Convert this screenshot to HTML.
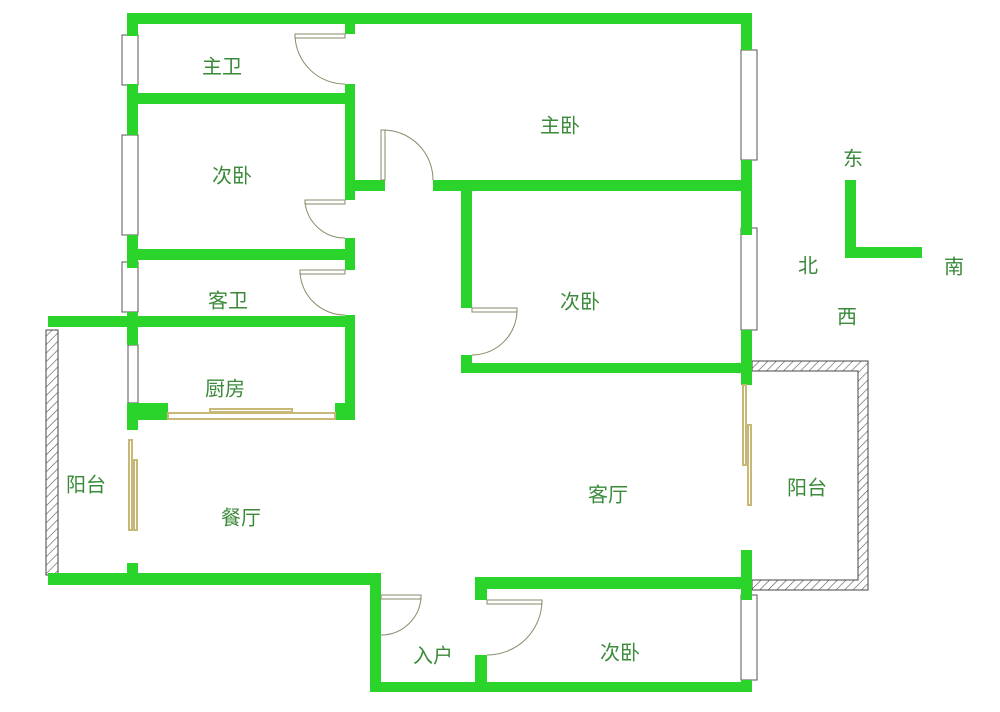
<!DOCTYPE html>
<html><head><meta charset="utf-8"><style>
html,body{margin:0;padding:0;background:#fff}
svg{display:block}
text{font-family:"Liberation Sans","Noto Sans CJK SC",sans-serif;font-size:20px;fill:#3a8a3a;text-anchor:middle;dominant-baseline:middle}
</style></head><body>
<svg width="1000" height="712" viewBox="0 0 1000 712" xmlns="http://www.w3.org/2000/svg">
<defs>
<pattern id="h" width="6" height="6" patternUnits="userSpaceOnUse" patternTransform="rotate(45)">
<rect width="6" height="6" fill="#fff"/><line x1="0" y1="0" x2="0" y2="6" stroke="#555" stroke-width="1.2"/></pattern>
</defs>
<!-- balconies hatched -->
<path d="M752 361 H868 V590 H752 V580 H858 V371 H752 Z" fill="url(#h)" stroke="#444" stroke-width="1"/>
<rect x="46" y="330" width="12" height="245" fill="url(#h)" stroke="#444" stroke-width="1"/>
<!-- windows -->
<g fill="#fff" stroke="#555" stroke-width="1">
<rect x="122" y="35" width="16" height="50"/><rect x="122" y="135" width="16" height="100"/>
<rect x="122" y="262" width="16" height="50"/><rect x="128" y="345" width="10" height="58"/>
<rect x="741" y="50" width="16" height="110"/><rect x="741" y="228" width="16" height="102"/>
<rect x="741" y="595" width="16" height="85"/>
</g>
<g fill="#2bd42b">
<rect x="127" y="13" width="625" height="11"/>
<rect x="127" y="13" width="11" height="23"/><rect x="127" y="84" width="11" height="51"/>
<rect x="127" y="235" width="11" height="33"/><rect x="127" y="312" width="11" height="33"/>
<rect x="127" y="403" width="11" height="27"/>
<rect x="127" y="93" width="228" height="11"/>
<rect x="345" y="24" width="10" height="10"/><rect x="345" y="84" width="10" height="116"/>
<rect x="355" y="180" width="30" height="11"/>
<rect x="127" y="249" width="228" height="11"/><rect x="345" y="238" width="10" height="32"/>
<rect x="48" y="316" width="307" height="11"/><rect x="345" y="315" width="10" height="105"/>
<rect x="127" y="403" width="41" height="17"/><rect x="335" y="403" width="20" height="17"/>
<rect x="433" y="180" width="319" height="11"/>
<rect x="461" y="180" width="11" height="128"/><rect x="461" y="355" width="11" height="18"/>
<rect x="461" y="363" width="291" height="10"/>
<rect x="741" y="13" width="11" height="37"/><rect x="741" y="160" width="11" height="75"/>
<rect x="741" y="330" width="11" height="55"/><rect x="741" y="550" width="11" height="50"/>
<rect x="741" y="680" width="11" height="12"/>
<rect x="475" y="577" width="277" height="12"/><rect x="475" y="577" width="12" height="23"/>
<rect x="475" y="655" width="12" height="37"/>
<rect x="370" y="682" width="382" height="10"/><rect x="370" y="575" width="11" height="117"/>
<rect x="48" y="573" width="333" height="12"/><rect x="127" y="563" width="11" height="12"/>
<rect x="845" y="180" width="11" height="78"/><rect x="845" y="247" width="77" height="11"/>
</g>
<!-- doors -->
<g fill="none" stroke="#8a8a6a" stroke-width="1">
<rect x="295" y="34" width="50" height="4"/><path d="M295 36 A50 50 0 0 0 345 84"/>
<rect x="381" y="130" width="4" height="50"/><path d="M383 130 A50 50 0 0 1 433 180"/>
<rect x="305" y="200" width="40" height="4"/><path d="M305 202 A40 40 0 0 0 345 238"/>
<rect x="300" y="270" width="45" height="4"/><path d="M300 272 A45 45 0 0 0 345 315"/>
<rect x="472" y="308" width="45" height="4"/><path d="M517 310 A45 45 0 0 1 472 355"/>
<rect x="381" y="595" width="40" height="4"/><path d="M421 597 A40 40 0 0 1 381 635"/>
<rect x="487" y="600" width="55" height="4"/><path d="M542 602 A55 55 0 0 1 487 655"/>
</g>
<g fill="none" stroke="#c8b878" stroke-width="2">
<rect x="168" y="413" width="167" height="6"/><rect x="210" y="409" width="82" height="3"/>
<rect x="129" y="440" width="3" height="90"/><rect x="134" y="460" width="3" height="70"/>
<rect x="743" y="385" width="3" height="80"/><rect x="748" y="425" width="3" height="80"/>
</g>
<text x="222" y="68">主卫</text><text x="560" y="127">主卧</text>
<text x="232" y="177">次卧</text><text x="580" y="303">次卧</text>
<text x="228" y="302">客卫</text><text x="225" y="390">厨房</text>
<text x="86" y="486">阳台</text><text x="241" y="519">餐厅</text>
<text x="608" y="496">客厅</text><text x="807" y="489">阳台</text>
<text x="433" y="657">入户</text><text x="620" y="654">次卧</text>
<text x="853" y="160">东</text><text x="808" y="267">北</text>
<text x="954" y="268">南</text><text x="847" y="318">西</text>
</svg>
</body></html>
